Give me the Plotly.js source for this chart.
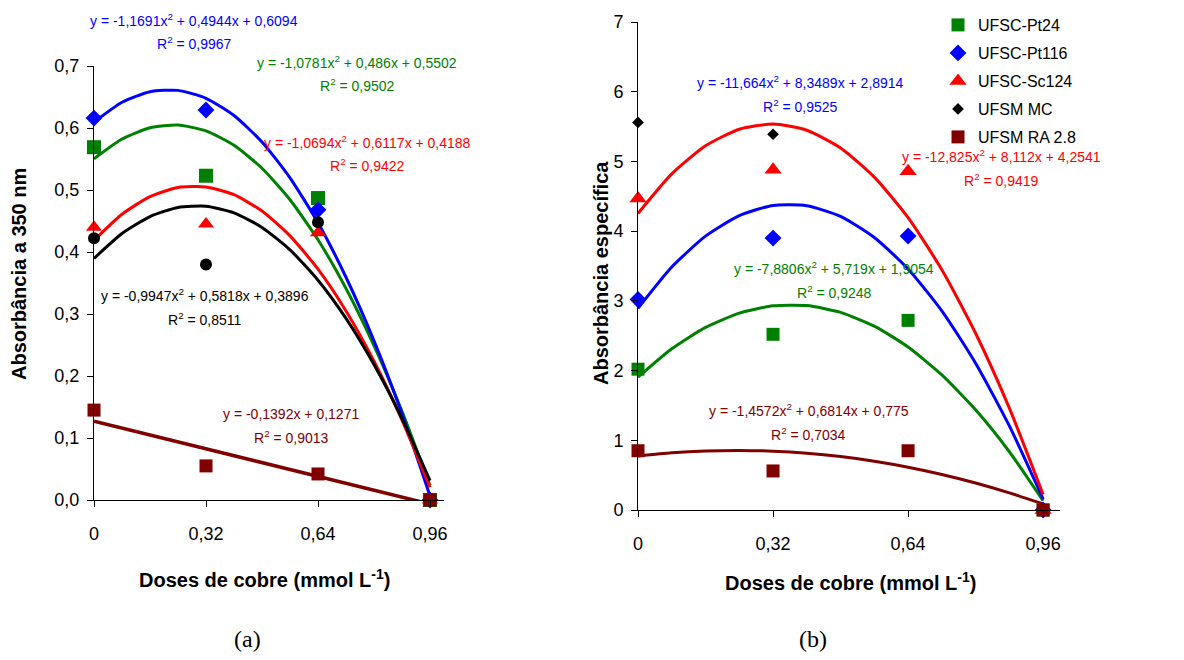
<!DOCTYPE html>
<html>
<head>
<meta charset="utf-8">
<script src="https://cdn.plot.ly/plotly-3.0.1.min.js"></script>
<style>
html,body{margin:0;padding:0;background:#fff;}
#chart{width:1184px;height:660px;}
</style>
</head>
<body>
<div id="chart"></div>
<script>
// ---------- data ----------
var doses = [0, 0.32, 0.64, 0.96];
var doseTickText = ["0", "0,32", "0,64", "0,96"];
var seriesNames = ["UFSC-Pt24", "UFSC-Pt116", "UFSC-Sc124", "UFSM MC", "UFSM RA 2.8"];

// (a) Absorbância a 350 nm – observed points
var a_pt24  = [0.569, 0.523, 0.487, 0.000];
var a_pt116 = [0.616, 0.629, 0.468, 0.000];
var a_sc124 = [0.440, 0.445, 0.431, 0.000];
var a_mc    = [0.422, 0.380, 0.448, 0.000];
var a_ra28  = [0.145, 0.055, 0.042, 0.000];

// (b) Absorbância específica – observed points
var b_pt24  = [2.02, 2.52, 2.72, 0.00];
var b_pt116 = [3.02, 3.90, 3.93, 0.00];
var b_sc124 = [4.47, 4.88, 4.86, 0.00];
var b_mcX   = [0, 0.32];
var b_mc    = [5.56, 5.39];
var b_ra28  = [0.85, 0.56, 0.85, 0.00];

// trend curves
var curveX = [0, 0.08, 0.16, 0.24, 0.32, 0.40, 0.48, 0.56, 0.64, 0.72, 0.80, 0.88, 0.96];
var a_fitPt24  = [0.5502, 0.5822, 0.6004, 0.6047, 0.5953, 0.5721, 0.5351, 0.4843, 0.4197, 0.3412, 0.2490, 0.1430, 0.0232];
var a_fitPt116 = [0.6094, 0.6415, 0.6586, 0.6607, 0.6479, 0.6201, 0.5774, 0.5196, 0.4470, 0.3593, 0.2567, 0.1391, 0.0066];
var a_fitSc124 = [0.4188, 0.4609, 0.4893, 0.5040, 0.5050, 0.4924, 0.4660, 0.4260, 0.3723, 0.3048, 0.2237, 0.1290, 0.0205];
var a_fitMC    = [0.3896, 0.4298, 0.4572, 0.4719, 0.4739, 0.4632, 0.4397, 0.4035, 0.3545, 0.2929, 0.2184, 0.1313, 0.0314];
var a_fitRAx   = [0, 0.96];
var a_fitRA    = [0.1271, -0.0065];

var b_fitPt24  = [1.9054, 2.3125, 2.6187, 2.8240, 2.9285, 2.9321, 2.8348, 2.6367, 2.3377, 1.9378, 1.4370, 0.8354, 0.1329];
var b_fitPt116 = [2.8914, 3.4847, 3.9286, 4.2233, 4.3687, 4.3647, 4.2115, 3.9090, 3.4571, 2.8560, 2.1056, 1.2058, 0.1568];
var b_fitSc124 = [4.2541, 4.8210, 5.2237, 5.4623, 5.5367, 5.4469, 5.1930, 4.7749, 4.1927, 3.4463, 2.5357, 1.4610, 0.2221];
var b_fitRA    = [0.7750, 0.8202, 0.8467, 0.8546, 0.8438, 0.8144, 0.7663, 0.6996, 0.6142, 0.5102, 0.3875, 0.2462, 0.0862];

var aTicks = [0, 0.1, 0.2, 0.3, 0.4, 0.5, 0.6, 0.7];
var aTickText = ["0,0", "0,1", "0,2", "0,3", "0,4", "0,5", "0,6", "0,7"];
var bTicks = [0, 1, 2, 3, 4, 5, 6, 7];
var bTickText = ["0", "1", "2", "3", "4", "5", "6", "7"];

// equation labels
var eqA = [
  {t: "y = -1,1691x<sup>2</sup> + 0,4944x + 0,6094", r: "R<sup>2</sup> = 0,9967", c: "#0000ff"},
  {t: "y = -1,0781x<sup>2</sup> + 0,486x + 0,5502", r: "R<sup>2</sup> = 0,9502", c: "#008000"},
  {t: "y = -1,0694x<sup>2</sup> + 0,6117x + 0,4188", r: "R<sup>2</sup> = 0,9422", c: "#ff0000"},
  {t: "y = -0,9947x<sup>2</sup> + 0,5818x + 0,3896", r: "R<sup>2</sup> = 0,8511", c: "#000000"},
  {t: "y = -0,1392x + 0,1271", r: "R<sup>2</sup> = 0,9013", c: "#800000"}
];
var eqB = [
  {t: "y = -11,664x<sup>2</sup> + 8,3489x + 2,8914", r: "R<sup>2</sup> = 0,9525", c: "#0000ff"},
  {t: "y = -12,825x<sup>2</sup> + 8,112x + 4,2541", r: "R<sup>2</sup> = 0,9419", c: "#ff0000"},
  {t: "y = -7,8806x<sup>2</sup> + 5,719x + 1,9054", r: "R<sup>2</sup> = 0,9248", c: "#008000"},
  {t: "y = -1,4572x<sup>2</sup> + 0,6814x + 0,775", r: "R<sup>2</sup> = 0,7034", c: "#800000"}
];

// ---------- styling / layout ----------
var W = 1184, H = 660;
function px(x){ return x / W; }
function py(y){ return 1 - y / H; }

var GREEN = "#008000", BLUE = "#0000ff", RED = "#ff0000", BLACK = "#000000", BROWN = "#800000";
var FONT = "Liberation Sans, Arial, sans-serif";

function line(x, y, color, xa, ya, w){
  return {x: x, y: y, mode: "lines", type: "scatter", xaxis: xa, yaxis: ya,
    line: {color: color, width: w || 3, shape: "spline", smoothing: 0.6},
    showlegend: false, hoverinfo: "skip", cliponaxis: true};
}
function pts(x, y, color, sym, size, xa, ya, name, leg, legId){
  return {x: x, y: y, mode: "markers", type: "scatter", xaxis: xa, yaxis: ya,
    marker: {color: color, symbol: sym, size: size, line: {width: 0}},
    name: name, showlegend: !!leg, legend: legId, cliponaxis: false};
}

var traces = [
  // panel (a) lines
  line(curveX, a_fitPt24, GREEN, "x", "y"),
  line(curveX, a_fitPt116, BLUE, "x", "y"),
  line(curveX, a_fitSc124, RED, "x", "y"),
  line(curveX, a_fitMC, BLACK, "x", "y"),
  line(a_fitRAx, a_fitRA, BROWN, "x", "y", 3.5),
  // panel (a) points
  pts(doses, a_pt24, GREEN, "square", 14, "x", "y", seriesNames[0], false),
  pts(doses, a_pt116, BLUE, "diamond", 13, "x", "y", seriesNames[1], false),
  pts(doses, a_sc124, RED, "triangle-up", 14, "x", "y", seriesNames[2], false),
  pts(doses, a_mc, BLACK, "circle", 12, "x", "y", seriesNames[3], false),
  pts(doses, a_ra28, BROWN, "square", 13, "x", "y", seriesNames[4], false),
  // panel (b) lines
  line(curveX, b_fitPt24, GREEN, "x2", "y2"),
  line(curveX, b_fitPt116, BLUE, "x2", "y2"),
  line(curveX, b_fitSc124, RED, "x2", "y2"),
  line(curveX, b_fitRA, BROWN, "x2", "y2"),
  // panel (b) points (with legend)
  pts(doses, b_pt24, GREEN, "square", 13, "x2", "y2", seriesNames[0], true, "legend"),
  pts(doses, b_pt116, BLUE, "diamond", 13, "x2", "y2", seriesNames[1], true, "legend2"),
  pts(doses, b_sc124, RED, "triangle-up", 15, "x2", "y2", seriesNames[2], true, "legend3"),
  pts(b_mcX, b_mc, BLACK, "diamond", 9, "x2", "y2", seriesNames[3], true, "legend4"),
  pts(doses, b_ra28, BROWN, "square", 13, "x2", "y2", seriesNames[4], true, "legend5")
];

function xAxis(d0, d1, anchor){
  return {domain: [px(d0), px(d1)], range: [0, 1.0], anchor: anchor,
    tickvals: doses, ticktext: doseTickText, ticks: "outside", ticklen: 6, tickwidth: 1, tickcolor: "#000",
    showline: true, linecolor: "#000", linewidth: 1, showgrid: false, zeroline: false,
    tickfont: {family: FONT, size: 18, color: "#000"}, ticklabelstandoff: 11, fixedrange: true};
}
function yAxis(top, bottom, range, tv, tt, anchor){
  return {domain: [py(bottom), py(top)], range: range, anchor: anchor,
    tickvals: tv, ticktext: tt, ticks: "outside", ticklen: 6, tickwidth: 1, tickcolor: "#000",
    showline: true, linecolor: "#000", linewidth: 1, showgrid: false, zeroline: false,
    tickfont: {family: FONT, size: 18, color: "#000"}, ticklabelstandoff: 4, fixedrange: true};
}

var annotations = [];
function ann(text, x, y, color, size, opts){
  var a = {text: text, x: px(x), y: py(y), xref: "paper", yref: "paper",
    xanchor: "center", yanchor: "middle", showarrow: false,
    font: {family: FONT, size: size, color: color}};
  if (opts) for (var k in opts) a[k] = opts[k];
  annotations.push(a);
}
// panel (a) equations
var eqAPos = [[194, 20, 43], [357, 62, 85], [367, 142, 165], [205, 295, 319], [291, 414, 437]];
eqA.forEach(function(e, i){
  ann(e.t, eqAPos[i][0], eqAPos[i][1], e.c, 14);
  ann(e.r, eqAPos[i][0], eqAPos[i][2], e.c, 14);
});
// panel (b) equations
var eqBPos = [[800, 82, 106], [1001, 156, 180], [834, 268, 292], [809, 410, 434]];
eqB.forEach(function(e, i){
  ann(e.t, eqBPos[i][0], eqBPos[i][1], e.c, 14);
  ann(e.r, eqBPos[i][0], eqBPos[i][2], e.c, 14);
});
// axis titles
ann("<b>Doses de cobre (mmol L<sup>-1</sup>)</b>", 264, 578, "#000", 20);
ann("<b>Doses de cobre (mmol L<sup>-1</sup>)</b>", 850, 581, "#000", 20);
ann("<b>Absorbância a 350 nm</b>", 19, 274, "#000", 20, {textangle: -90});
ann("<b>Absorbância específica</b>", 601, 273, "#000", 20, {textangle: -90});
// panel labels
ann("(a)", 247, 639, "#000", 24, {font: {family: "Liberation Serif, Times New Roman, serif", size: 24, color: "#000"}});
ann("(b)", 813, 639, "#000", 24, {font: {family: "Liberation Serif, Times New Roman, serif", size: 24, color: "#000"}});

function legendAt(y){
  return {x: px(938), y: py(y), xanchor: "left", yanchor: "middle", bgcolor: "rgba(0,0,0,0)",
    borderwidth: 0, font: {family: FONT, size: 16, color: "#000"}};
}

var layout = {
  width: W, height: H,
  margin: {l: 0, r: 0, t: 0, b: 0},
  paper_bgcolor: "#fff", plot_bgcolor: "rgba(0,0,0,0)",
  font: {family: FONT, color: "#000"},
  xaxis: xAxis(94, 444, "y"),
  yaxis: yAxis(66, 500, [0, 0.7], aTicks, aTickText, "x"),
  xaxis2: xAxis(638, 1060, "y2"),
  yaxis2: yAxis(22, 510, [0, 7], bTicks, bTickText, "x2"),
  legend: legendAt(25),
  legend2: legendAt(53),
  legend3: legendAt(81),
  legend4: legendAt(109),
  legend5: legendAt(137),
  annotations: annotations,
  hovermode: false
};

Plotly.newPlot("chart", traces, layout, {displayModeBar: false, staticPlot: true});
</script>
</body>
</html>
